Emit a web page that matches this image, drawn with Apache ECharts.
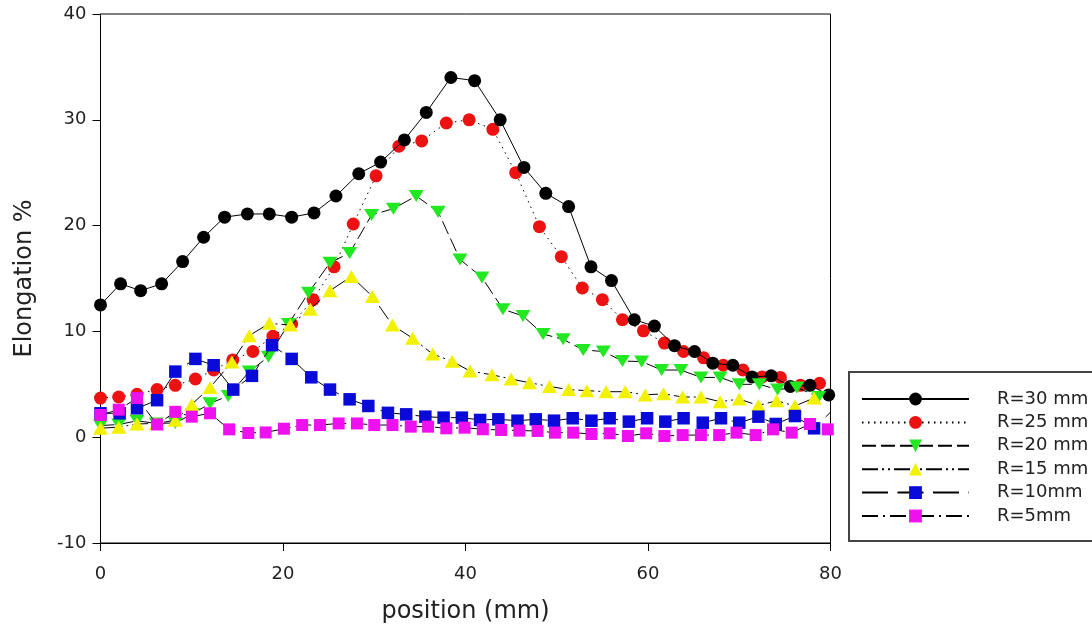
<!DOCTYPE html>
<html>
<head>
<meta charset="utf-8">
<script src="https://cdn.jsdelivr.net/npm/echarts@6/dist/echarts.min.js"></script>
<style>
html,body{margin:0;padding:0;background:#fff;}
#chart{width:1092px;height:632px;}
</style>
</head>
<body>
<div id="chart"></div>
<script>
// ---- data ----
const seriesNames = ['R=30 mm', 'R=25 mm', 'R=20 mm', 'R=15 mm', 'R=10mm', 'R=5mm'];

const xR30 = [0, 2.2, 4.4, 6.7, 9.0, 11.3, 13.6, 16.1, 18.5, 20.95, 23.4, 25.8, 28.3, 30.7, 33.3, 35.7, 38.4, 41.0, 43.8, 46.4, 48.8, 51.3, 53.75, 56.0, 58.5, 60.7, 62.9, 65.1, 67.1, 69.3, 71.4, 73.5, 75.6, 77.75, 79.8];
const yR30 = [12.5, 14.5, 13.85, 14.5, 16.6, 18.9, 20.8, 21.1, 21.1, 20.8, 21.2, 22.8, 24.9, 26.0, 28.1, 30.7, 34.0, 33.7, 30.0, 25.5, 23.05, 21.8, 16.1, 14.8, 11.1, 10.5, 8.65, 8.1, 7.0, 6.8, 5.7, 5.8, 4.8, 4.9, 4.0];

const xR25 = [0, 2.0, 4.0, 6.2, 8.2, 10.4, 12.4, 14.5, 16.7, 18.9, 20.95, 23.3, 25.6, 27.7, 30.2, 32.7, 35.2, 37.9, 40.4, 43.0, 45.5, 48.1, 50.5, 52.8, 55.0, 57.2, 59.5, 61.8, 63.9, 66.1, 68.25, 70.4, 72.5, 74.5, 76.7, 78.8];
const yR25 = [3.7, 3.8, 4.05, 4.5, 4.9, 5.5, 6.35, 7.3, 8.1, 9.55, 10.7, 13.0, 16.1, 20.15, 24.7, 27.5, 28.0, 29.7, 30.0, 29.1, 25.0, 19.9, 17.06, 14.1, 13.0, 11.1, 10.05, 8.9, 8.1, 7.5, 6.8, 6.35, 5.7, 5.65, 4.9, 5.1];

const xR20 = [0, 2.0, 4.0, 6.1, 8.2, 10.1, 12.0, 14.0, 16.3, 18.4, 20.6, 22.8, 25.15, 27.3, 29.7, 32.1, 34.6, 37.0, 39.4, 41.8, 44.1, 46.3, 48.5, 50.7, 52.9, 55.1, 57.2, 59.3, 61.5, 63.6, 65.8, 67.9, 70.0, 72.2, 74.2, 76.3, 78.7];
const yR20 = [1.1, 1.2, 1.55, 1.3, 1.35, 2.2, 3.2, 3.9, 6.2, 7.6, 10.7, 13.65, 16.5, 17.4, 21.0, 21.6, 22.8, 21.3, 16.8, 15.1, 12.1, 11.45, 9.75, 9.25, 8.25, 8.1, 7.2, 7.15, 6.35, 6.35, 5.65, 5.65, 5.0, 5.0, 4.5, 4.7, 3.8];

const xR15 = [0, 2.0, 4.0, 6.1, 8.2, 10.0, 12.0, 14.4, 16.3, 18.5, 20.8, 23.0, 25.15, 27.5, 29.8, 32.0, 34.2, 36.4, 38.55, 40.5, 42.9, 45.0, 47.0, 49.2, 51.3, 53.3, 55.4, 57.5, 59.7, 61.7, 63.8, 65.8, 67.9, 70.0, 72.1, 74.1, 76.1, 78.2];
const yR15 = [0.85, 0.95, 1.25, 1.3, 1.6, 3.1, 4.7, 7.1, 9.6, 10.76, 10.6, 12.1, 13.85, 15.2, 13.3, 10.6, 9.35, 7.86, 7.17, 6.25, 5.9, 5.5, 5.15, 4.8, 4.5, 4.4, 4.3, 4.3, 4.0, 4.1, 3.8, 3.8, 3.36, 3.6, 3.0, 3.45, 2.95, 3.7];

const xR10 = [0, 2.1, 4.0, 6.2, 8.2, 10.4, 12.4, 14.55, 16.6, 18.8, 20.95, 23.1, 25.15, 27.3, 29.35, 31.5, 33.5, 35.6, 37.6, 39.6, 41.6, 43.6, 45.7, 47.7, 49.7, 51.75, 53.8, 55.8, 57.9, 59.9, 61.9, 63.9, 66.0, 68.0, 70.0, 72.1, 74.0, 76.1, 78.2, 80.4];
const yR10 = [2.26, 2.26, 2.73, 3.5, 6.2, 7.4, 6.8, 4.5, 5.8, 8.7, 7.4, 5.66, 4.5, 3.58, 2.95, 2.3, 2.16, 1.94, 1.85, 1.85, 1.63, 1.69, 1.56, 1.69, 1.56, 1.79, 1.56, 1.79, 1.47, 1.79, 1.47, 1.79, 1.37, 1.79, 1.37, 1.94, 1.25, 2.0, 0.84, 2.7];

const xR5 = [0, 2.0, 4.0, 6.2, 8.2, 10.0, 12.0, 14.1, 16.2, 18.1, 20.1, 22.1, 24.05, 26.1, 28.1, 30.0, 32.0, 34.0, 35.9, 37.9, 39.9, 41.9, 43.9, 45.9, 47.9, 49.8, 51.8, 53.8, 55.8, 57.8, 59.8, 61.8, 63.8, 65.8, 67.8, 69.7, 71.8, 73.7, 75.75, 77.75, 79.7];
const yR5 = [2.1, 2.6, 3.7, 1.2, 2.4, 1.94, 2.26, 0.74, 0.4, 0.45, 0.8, 1.15, 1.15, 1.3, 1.3, 1.15, 1.15, 1.0, 1.0, 0.84, 0.9, 0.75, 0.68, 0.62, 0.59, 0.43, 0.43, 0.3, 0.37, 0.11, 0.37, 0.11, 0.2, 0.2, 0.2, 0.43, 0.2, 0.74, 0.43, 1.25, 0.74];

const xTicks = { min: 0, max: 80, interval: 20 };
const yTicks = { min: -10, max: 40, interval: 10 };

// ---- styling ----
const FONT = 'DejaVu Sans';
function pairs(xs, ys) { return xs.map((x, i) => [x, ys[i]]); }

const styles = [
  { x: xR30, y: yR30, symbol: 'circle', size: 13, color: '#000000', dash: 'solid', rot: 0, z: 3 },
  { x: xR25, y: yR25, symbol: 'circle', size: 13, color: '#ee1111', dash: [1.5, 4.5], rot: 0, z: 2 },
  { x: xR20, y: yR20, symbol: 'triangle', size: [15, 12], color: '#22e822', dash: [14, 5], rot: 180, z: 4 },
  { x: xR15, y: yR15, symbol: 'triangle', size: [15, 13], color: '#f2f200', dash: [16, 4, 2, 4, 2, 4], rot: 0, z: 5 },
  { x: xR10, y: yR10, symbol: 'rect', size: 12.5, color: '#0a0ad8', dash: [26, 9.5], rot: 0, z: 6 },
  { x: xR5, y: yR5, symbol: 'rect', size: 12, color: '#ee10ee', dash: [16, 5, 2, 5], rot: 0, z: 7 }
];

const series = styles.map((s, i) => ({
  name: seriesNames[i],
  type: 'line',
  data: pairs(s.x, s.y),
  symbol: s.symbol,
  symbolSize: s.size,
  symbolRotate: s.rot,
  showAllSymbol: true,
  clip: true,
  z: s.z,
  itemStyle: { color: s.color, borderWidth: 0 },
  lineStyle: { color: '#000', width: 1, type: s.dash },
  emphasis: { disabled: true },
  animation: false
}));

const chart = echarts.init(document.getElementById('chart'), null, { renderer: 'canvas' });
chart.setOption({
  backgroundColor: '#ffffff',
  animation: false,
  textStyle: { fontFamily: FONT },
  grid: { left: 100.5, right: 261.5, top: 14, bottom: 89, show: true, borderColor: '#000', borderWidth: 1, backgroundColor: 'transparent' },
  xAxis: {
    type: 'value', min: xTicks.min, max: xTicks.max, interval: xTicks.interval,
    name: 'position (mm)', nameLocation: 'middle', nameGap: 57,
    nameTextStyle: { fontFamily: FONT, fontSize: 24, color: '#222' },
    axisLine: { show: true, onZero: false, lineStyle: { color: '#000', width: 1 } },
    axisTick: { show: true, inside: false, length: 8, lineStyle: { color: '#000' } },
    axisLabel: { fontFamily: FONT, fontSize: 18, color: '#222', margin: 22 },
    splitLine: { show: false }
  },
  yAxis: {
    type: 'value', min: yTicks.min, max: yTicks.max, interval: yTicks.interval,
    name: 'Elongation %', nameLocation: 'middle', nameGap: 64, nameRotate: 90,
    nameTextStyle: { fontFamily: FONT, fontSize: 24, color: '#222' },
    axisLine: { show: true, onZero: false, lineStyle: { color: '#000', width: 1 } },
    axisTick: { show: true, inside: false, length: 8, lineStyle: { color: '#000' } },
    axisLabel: { fontFamily: FONT, fontSize: 18, color: '#222', margin: 14 },
    splitLine: { show: false }
  },
  graphic: [{
    type: 'rect', left: 848, top: 371, z: 0, silent: true,
    shape: { width: 300, height: 169 },
    style: { fill: '#fff', stroke: '#444', lineWidth: 2 }
  }],
  legend: {
    orient: 'vertical',
    left: 848, top: 373,
    padding: [17, 20, 17, 13],
    itemWidth: 107, itemHeight: 16, itemGap: 5.4,
    borderWidth: 0,
    selectedMode: false,
    z: 10,
    textStyle: { fontFamily: FONT, fontSize: 18, color: '#222', padding: [0, 0, 0, 23] },
    data: seriesNames
  },
  series: series
});
</script>
</body>
</html>
